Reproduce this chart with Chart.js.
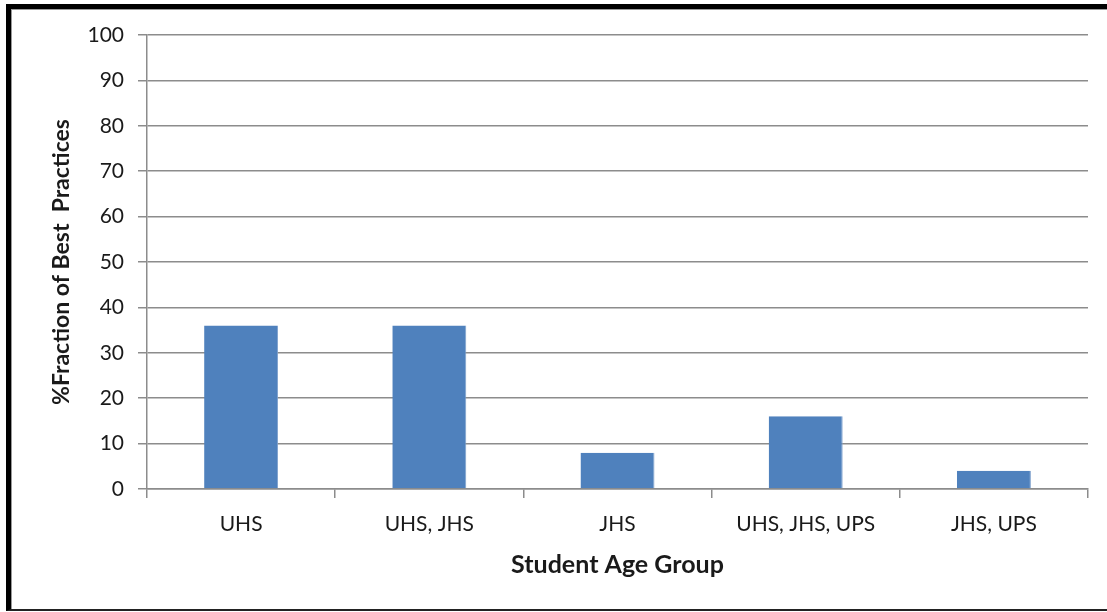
<!DOCTYPE html>
<html>
<head>
<meta charset="utf-8">
<script src="https://cdn.jsdelivr.net/npm/chart.js@4"></script>
<style>
  body { margin: 0; background: #fff; }
  #wrap { position: relative; width: 1107px; height: 612px; }
  /* black frame round the chart (no right edge) */
  #frame {
    position: absolute; left: 6px; top: 4px; right: 0; bottom: 1px;
    border-left: 5px solid #000; border-top: 5px solid #000; border-bottom: 2px solid #222;
    box-shadow: inset 1px 1px 0 #999;
    pointer-events: none;
  }
</style>
</head>
<body>
<div id="wrap">
  <canvas id="ageChart"></canvas>
  <div id="frame"></div>
</div>
<script>
// --- data ---
const ageGroups = ['UHS', 'UHS, JHS', 'JHS', 'UHS, JHS, UPS', 'JHS, UPS'];
const bestPracticePct = [36, 36, 8, 16, 4];
const yTicks = [0, 10, 20, 30, 40, 50, 60, 70, 80, 90, 100];

const GRID = '#8c8c8c';
const FONT = 'Lato, "Open Sans", sans-serif';

new Chart(document.getElementById('ageChart'), {
    type: 'bar',
    data: {
        labels: ageGroups,
        datasets: [{
            label: '%Fraction of Best Practices',
            data: bestPracticePct,
            backgroundColor: '#4f81bd',
            borderColor: '#7da0cc',
            borderWidth: { top: 0, left: 0, bottom: 0, right: 1 },
            categoryPercentage: 1,
            barPercentage: 0.393
        }]
    },
    options: {
        responsive: true,
        maintainAspectRatio: false,
        animation: false,
        layout: { padding: { top: 35, right: 19, left: 0, bottom: 0 } },
        plugins: { legend: { display: false }, tooltip: { enabled: false } },
        scales: {
            x: {
                afterFit: s => { s.height = 123; },
                grid: {
                    offset: true, drawOnChartArea: false, drawTicks: true,
                    tickLength: 9, color: GRID, lineWidth: 1.5
                },
                border: { color: GRID, width: 1.5 },
                ticks: { color: '#1a1a1a', padding: 14, font: { family: FONT, size: 21 } },
                title: {
                    display: true, text: 'Student Age Group', color: '#1a1a1a',
                    font: { family: FONT, size: 25, weight: 'bold' },
                    padding: { top: 0, bottom: 32 }
                }
            },
            y: {
                min: 0, max: 100,
                afterFit: s => { s.width = 147; },
                afterBuildTicks: s => { s.ticks = yTicks.map(v => ({ value: v })); },
                grid: { color: GRID, lineWidth: 1.5, tickLength: 9 },
                border: { color: GRID, width: 1.5 },
                ticks: { color: '#1a1a1a', padding: 14, font: { family: FONT, size: 21 } },
                title: {
                    display: true, text: '%Fraction of Best  Practices', color: '#1a1a1a',
                    font: { family: FONT, size: 23, weight: 'bold' },
                    padding: { top: 48, bottom: 0 }
                }
            }
        }
    }
});
</script>
</body>
</html>
